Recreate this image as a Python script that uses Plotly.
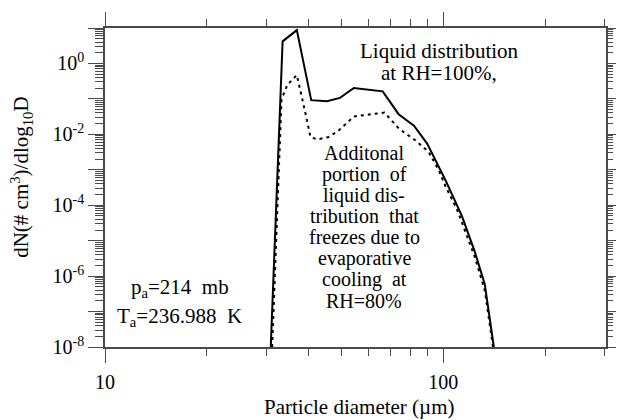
import plotly.graph_objects as go

# Particle diameter (um) and dN/dlog10D for the liquid distribution at RH=100%
d_liquid = [30.9, 33.5, 36.9, 40.7, 45.3, 49.5, 54.4, 66.2, 73.8, 81.9, 89.6,
            101.4, 113.4, 123.9, 132.6, 141.1]
n_liquid = [1e-8, 4.2, 8.7, 0.092, 0.086, 0.107, 0.203, 0.163, 0.037, 0.0175,
            0.0055, 5.2e-4, 5.1e-5, 4.9e-6, 5.9e-7, 1e-8]

# Portion of the liquid distribution that freezes (evaporative cooling, RH=80%)
d_frozen = [31.2, 33.25, 34.6, 36.9, 38.9, 40.5, 42.4, 45.8, 49.0, 54.4, 67.0,
            74.1, 82.8, 90.5, 96.9, 101.4, 109.7, 123.9, 132.6, 140.3]
n_frozen = [1e-8, 0.096, 0.25, 0.47, 0.051, 0.0084, 0.0072, 0.0084, 0.0127,
            0.032, 0.041, 0.0142, 0.0067, 0.0032, 9.9e-4, 3.5e-4, 7.8e-5,
            3.5e-6, 4.0e-7, 1e-8]

# Axis ticks
y_decades = [10.0 ** k for k in range(-8, 2)]
y_ticktext = ["10<sup>%d</sup>" % k if k % 2 == 0 else "" for k in range(-8, 2)]
y_minor = [m * 10.0 ** k for k in range(-8, 1) for m in range(2, 10)]
x_major = [10, 100]
x_ticktext = ["10", "100"]
x_minor = [20, 30, 40, 50, 60, 70, 80, 90, 200, 300]

FONT = "Liberation Serif"
AXC = "#4a4a4a"

fig = go.Figure()
fig.add_trace(go.Scatter(x=d_liquid, y=n_liquid, mode="lines",
                         line=dict(color="black", width=2), showlegend=False))
fig.add_trace(go.Scatter(x=d_frozen, y=n_frozen, mode="lines", yaxis="y2",
                         line=dict(color="black", width=2, dash="3px,4px"),
                         showlegend=False))

fig.update_layout(
    width=626, height=420,
    margin=dict(l=105, r=13, t=23, b=73),
    paper_bgcolor="white", plot_bgcolor="white",
    font=dict(family=FONT, size=20, color="black"),
    xaxis=dict(
        type="log", range=[1, 2.481],
        tickmode="array", tickvals=x_major, ticktext=x_ticktext,
        ticks="outside", ticklen=14, tickwidth=1.3, tickcolor=AXC,
        minor=dict(tickmode="array", tickvals=x_minor, ticks="outside",
                   ticklen=7, tickwidth=1.2, tickcolor=AXC, showgrid=False),
        showline=True, linecolor=AXC, linewidth=1.5, mirror="ticks",
        showgrid=False, zeroline=False,
        tickfont=dict(family=FONT, size=20), ticklabelstandoff=2,
    ),
    yaxis=dict(
        type="log", range=[-8, 1],
        tickmode="array", tickvals=y_decades, ticktext=y_ticktext,
        ticks="outside", ticklen=15, tickwidth=1.3, tickcolor=AXC,
        minor=dict(tickmode="array", tickvals=y_minor, ticks="outside",
                   ticklen=8, tickwidth=1.0, tickcolor=AXC, showgrid=False),
        showline=True, linecolor=AXC, linewidth=1.5,
        showgrid=False, zeroline=False,
        tickfont=dict(family=FONT, size=20),
    ),
    yaxis2=dict(
        type="log", range=[-8, 1], overlaying="y", side="right",
        tickmode="array", tickvals=y_decades,
        ticks="outside", ticklen=8, tickwidth=1.2, tickcolor=AXC,
        minor=dict(tickmode="array", tickvals=y_minor, ticks="outside",
                   ticklen=5, tickwidth=1.0, tickcolor=AXC, showgrid=False),
        showline=True, linecolor=AXC, linewidth=1.5,
        showticklabels=False, showgrid=False, zeroline=False,
    ),
)

# Plot-area pixel helpers for text placement
L, R, T, B = 105, 613, 23, 347


def px(x):
    return (x - L) / (R - L)


def py(y):
    return (B - y) / (B - T)


def add_text(text, x, y, size=21, **kw):
    fig.add_annotation(text=text, x=px(x), y=py(y), xref="paper", yref="paper",
                       showarrow=False, xanchor="center", yanchor="middle",
                       font=dict(family=FONT, size=size, color="black"), **kw)


liquid_lines = ["Liquid distribution", "at RH=100%,"]
for i, line in enumerate(liquid_lines):
    add_text(line, 444, 46 + i * 23)

frozen_lines = ["Additonal", "portion  of", "liquid dis-", "tribution  that",
                "freezes due to", "evaporative", "cooling  at", "RH=80%"]
for i, line in enumerate(frozen_lines):
    add_text(line, 368, 150 + i * 21.4, size=20)

add_text("p<sub>a</sub>=214  mb", 181, 287)
add_text("T<sub>a</sub>=236.988  K", 181, 317)

# Axis titles
add_text("Particle diameter (\u00b5m)", 363, 408)
add_text("dN(# cm<sup>3</sup>)/dlog<sub>10</sub>D", 20, 175, textangle=-90)

fig.write_html("out.html")
